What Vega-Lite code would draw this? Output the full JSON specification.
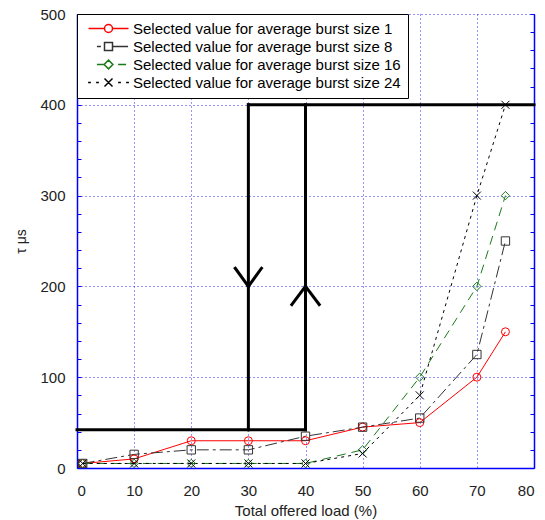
{
  "$schema": "https://vega.github.io/schema/vega-lite/v6.json",
  "autosize": "none",
  "width": 457,
  "height": 454,
  "padding": {"left": 77, "top": 14, "right": 11, "bottom": 52},
  "background": "white",
  "config": {
    "font": "Liberation Sans",
    "view": {"stroke": null},
    "axis": {"labelFont": "Liberation Sans", "titleFont": "Liberation Sans", "labelFontSize": 15, "titleFontSize": 15, "labelColor": "#222", "titleColor": "#222", "titleFontWeight": "normal", "gridDash": [1, 3], "gridColor": "#2a2aff", "gridWidth": 1},
    "legend": {"labelFont": "Liberation Sans"}
  },
  "datasets": {
    "series": [
      {"s": "1", "load": 1, "tau": 5}, {"s": "1", "load": 10, "tau": 10}, {"s": "1", "load": 20, "tau": 30}, {"s": "1", "load": 30, "tau": 30}, {"s": "1", "load": 40, "tau": 30}, {"s": "1", "load": 50, "tau": 45}, {"s": "1", "load": 60, "tau": 50}, {"s": "1", "load": 70, "tau": 100}, {"s": "1", "load": 75, "tau": 150},
      {"s": "8", "load": 1, "tau": 5}, {"s": "8", "load": 10, "tau": 15}, {"s": "8", "load": 20, "tau": 20}, {"s": "8", "load": 30, "tau": 20}, {"s": "8", "load": 40, "tau": 35}, {"s": "8", "load": 50, "tau": 45}, {"s": "8", "load": 60, "tau": 55}, {"s": "8", "load": 70, "tau": 125}, {"s": "8", "load": 75, "tau": 250},
      {"s": "16", "load": 1, "tau": 5}, {"s": "16", "load": 10, "tau": 5}, {"s": "16", "load": 20, "tau": 5}, {"s": "16", "load": 30, "tau": 5}, {"s": "16", "load": 40, "tau": 5}, {"s": "16", "load": 50, "tau": 20}, {"s": "16", "load": 60, "tau": 100}, {"s": "16", "load": 70, "tau": 200}, {"s": "16", "load": 75, "tau": 300},
      {"s": "24", "load": 1, "tau": 5}, {"s": "24", "load": 10, "tau": 5}, {"s": "24", "load": 20, "tau": 5}, {"s": "24", "load": 30, "tau": 5}, {"s": "24", "load": 40, "tau": 5}, {"s": "24", "load": 50, "tau": 16}, {"s": "24", "load": 60, "tau": 80}, {"s": "24", "load": 70, "tau": 300}, {"s": "24", "load": 75, "tau": 400}
    ],
    "rules": [
      {"x1": 0, "y1": 42, "x2": 40, "y2": 42},
      {"x1": 30, "y1": 42, "x2": 30, "y2": 400},
      {"x1": 40, "y1": 42, "x2": 40, "y2": 400},
      {"x1": 30, "y1": 400, "x2": 80, "y2": 400},
      {"x1": 27.7, "y1": 220, "x2": 30, "y2": 200},
      {"x1": 32.3, "y1": 220, "x2": 30, "y2": 200},
      {"x1": 37.6, "y1": 180, "x2": 40, "y2": 200},
      {"x1": 42.4, "y1": 180, "x2": 40, "y2": 200}
    ]
  },
  "resolve": {"axis": {"y": "independent"}},
  "layer": [
    {
      "data": {"name": "rules"},
      "mark": {"type": "rule", "color": "black", "strokeWidth": 3, "strokeCap": "square"},
      "encoding": {
        "x": {"field": "x1", "type": "quantitative", "title": "Total offered load (%)",
          "scale": {"domain": [0, 80], "nice": false, "zero": false},
          "axis": {"values": [0, 10, 20, 30, 40, 50, 60, 70, 80], "tickSize": 0, "labelPadding": 15, "domainColor": "#0000ff", "domainWidth": 1.5, "grid": true, "titlePadding": 5}},
        "x2": {"field": "x2"},
        "y": {"field": "y1", "type": "quantitative", "title": "τ μs",
          "scale": {"domain": [0, 500], "nice": false},
          "axis": {"values": [0, 20, 40, 60, 80, 100, 120, 140, 160, 180, 200, 220, 240, 260, 280, 300, 320, 340, 360, 380, 400, 420, 440, 460, 480, 500],
            "labelExpr": "datum.value % 100 === 0 ? datum.label : ''",
            "tickSize": -4, "tickColor": "#0000ff", "domainColor": "#0000ff", "domainWidth": 1.5, "labelPadding": 16,
            "grid": true,
            "gridOpacity": {"condition": {"test": "datum.value % 100 === 0", "value": 1}, "value": 0},
            "titlePadding": 11, "titleFontSize": 14}},
        "y2": {"field": "y2"}
      }
    },
    {
      "data": {"name": "series"},
      "transform": [{"filter": "datum.s === '1'"}],
      "mark": {"type": "line", "strokeWidth": 1, "color": "#ff0000"},
      "encoding": {
        "x": {"field": "load", "type": "quantitative", "title": "Total offered load (%)"},
        "y": {"field": "tau", "type": "quantitative", "axis": null}
      }
    },
    {
      "data": {"name": "series"},
      "transform": [{"filter": "datum.s === '8'"}],
      "mark": {"type": "line", "strokeWidth": 1, "color": "#333333", "strokeDash": [12, 4, 3, 4]},
      "encoding": {
        "x": {"field": "load", "type": "quantitative", "title": "Total offered load (%)"},
        "y": {"field": "tau", "type": "quantitative", "axis": null}
      }
    },
    {
      "data": {"name": "series"},
      "transform": [{"filter": "datum.s === '16'"}],
      "mark": {"type": "line", "strokeWidth": 1, "color": "#1a7a1a", "strokeDash": [9, 6]},
      "encoding": {
        "x": {"field": "load", "type": "quantitative", "title": "Total offered load (%)"},
        "y": {"field": "tau", "type": "quantitative", "axis": null}
      }
    },
    {
      "data": {"name": "series"},
      "transform": [{"filter": "datum.s === '24'"}],
      "mark": {"type": "line", "strokeWidth": 1, "color": "#000000", "strokeDash": [3, 4]},
      "encoding": {
        "x": {"field": "load", "type": "quantitative", "title": "Total offered load (%)"},
        "y": {"field": "tau", "type": "quantitative", "axis": null}
      }
    },
    {
      "data": {"name": "series"},
      "transform": [{"filter": "datum.s === '1'"}],
      "mark": {"type": "point", "shape": "circle", "filled": false, "strokeWidth": 1, "size": 64, "opacity": 1, "color": "#ff0000"},
      "encoding": {
        "x": {"field": "load", "type": "quantitative", "title": "Total offered load (%)"},
        "y": {"field": "tau", "type": "quantitative",
          "axis": {"orient": "right", "values": [0, 20, 40, 60, 80, 100, 120, 140, 160, 180, 200, 220, 240, 260, 280, 300, 320, 340, 360, 380, 400, 420, 440, 460, 480, 500],
            "labels": false, "title": null, "grid": false, "tickSize": -4, "tickColor": "#0000ff", "domainColor": "#0000ff", "domainWidth": 1.5}}
      }
    },
    {
      "data": {"name": "series"},
      "transform": [{"filter": "datum.s === '8'"}],
      "mark": {"type": "point", "shape": "square", "filled": false, "strokeWidth": 1, "size": 70, "opacity": 1, "color": "#333333"},
      "encoding": {
        "x": {"field": "load", "type": "quantitative", "title": "Total offered load (%)"},
        "y": {"field": "tau", "type": "quantitative", "axis": null}
      }
    },
    {
      "data": {"name": "series"},
      "transform": [{"filter": "datum.s === '16'"}],
      "mark": {"type": "point", "shape": "diamond", "filled": false, "strokeWidth": 1, "size": 70, "opacity": 1, "color": "#1a7a1a"},
      "encoding": {
        "x": {"field": "load", "type": "quantitative", "title": "Total offered load (%)"},
        "y": {"field": "tau", "type": "quantitative", "axis": null}
      }
    },
    {
      "data": {"name": "series"},
      "transform": [{"filter": "datum.s === '24'"}],
      "mark": {"type": "point", "shape": "M-1,-1L1,1M-1,1L1,-1", "filled": false, "strokeWidth": 1, "size": 64, "opacity": 1, "color": "#000000"},
      "encoding": {
        "x": {"field": "load", "type": "quantitative", "title": "Total offered load (%)"},
        "y": {"field": "tau", "type": "quantitative", "axis": null}
      }
    },
    {
      "data": {"name": "series"},
      "mark": {"type": "point", "filled": false, "strokeWidth": 1, "size": 64, "opacity": 0},
      "encoding": {
        "x": {"field": "load", "type": "quantitative", "title": "Total offered load (%)"},
        "y": {"field": "tau", "type": "quantitative", "axis": null},
        "color": {"field": "s", "type": "nominal",
          "scale": {"domain": ["1", "8", "16", "24"], "range": ["#ff0000", "#333333", "#1a7a1a", "#000000"]},
          "legend": {"orient": "top-left", "offset": 0, "title": null, "padding": 7,
            "strokeColor": "black", "fillColor": "white", "symbolOpacity": 1,
            "labelFontSize": 15, "labelLimit": 0, "symbolSize": 64, "symbolOffset": 17, "labelOffset": 17, "rowPadding": 2,
            "labelExpr": "'Selected value for average burst size ' + datum.label",
            "encode": {
              "legend": {"update": {"strokeWidth": {"value": 3}, "stroke": {"value": "black"}, "fill": {"value": "white"}}},
              "labels": {"update": {
                "fill": {"signal": "datum.value === '1' ? '#ff0000' : datum.value === '8' ? '#444444' : datum.value === '16' ? '#1a7a1a' : '#000000'"}}}
            }}},
        "shape": {"field": "s", "type": "nominal",
          "scale": {"domain": ["1", "8", "16", "24"], "range": [
            "M-5,0H-1M1,0H5M-1,0A1,1,0,1,0,1,0A1,1,0,1,0,-1,0",
            "M-2.9,0H-1.9M-1,-1H1V1H-1ZM1,0H4.9",
            "M-2.9,0H-1.1M0,-1.1L1.1,0L0,1.1L-1.1,0ZM2.4,0H4.4",
            "M-5.1,0H-4.4M-3.1,0H-2.4M-1,-1L1,1M-1,1L1,-1M2.4,0H3.1M4.4,0H5.1"]},
          "legend": {"orient": "top-left", "offset": 0, "title": null, "padding": 7,
            "strokeColor": "black", "fillColor": "white", "symbolOpacity": 1,
            "labelFontSize": 15, "labelLimit": 0, "symbolSize": 64, "symbolOffset": 17, "labelOffset": 17, "rowPadding": 2,
            "labelExpr": "'Selected value for average burst size ' + datum.label",
            "encode": {
              "legend": {"update": {"strokeWidth": {"value": 3}, "stroke": {"value": "black"}, "fill": {"value": "white"}}},
              "labels": {"update": {
                "fill": {"signal": "datum.value === '1' ? '#ff0000' : datum.value === '8' ? '#444444' : datum.value === '16' ? '#1a7a1a' : '#000000'"}}}
            }}}
      }
    }
  ]
}
